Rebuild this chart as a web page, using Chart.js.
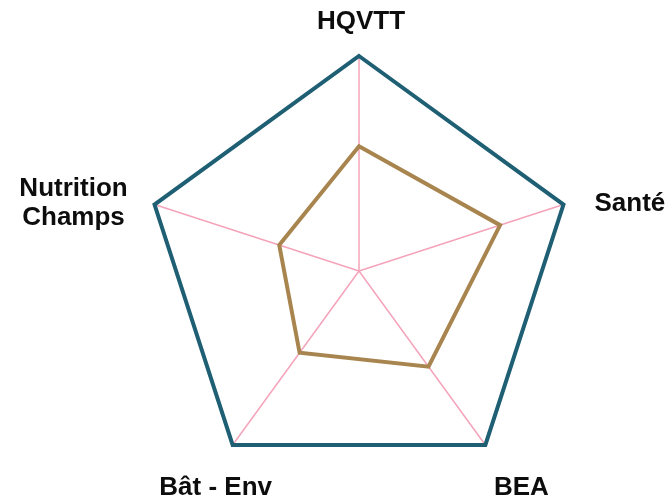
<!DOCTYPE html>
<html>
<head>
<meta charset="utf-8">
<script src="https://cdn.jsdelivr.net/npm/chart.js@4/dist/chart.umd.min.js"></script>
<style>
  html, body { margin: 0; padding: 0; background: #fff; }
  #wrap { width: 672px; height: 497px; position: relative; }
</style>
</head>
<body>
<div id="wrap"><canvas id="radarChart"></canvas></div>
<script>
const categories = ["HQVTT", "Santé", "BEA", "Bât - Env", ["Nutrition", "Champs"]];
const maxValues = [1, 1, 1, 1, 1];
const scoreValues = [0.58, 0.69, 0.55, 0.47, 0.39];

// where each axis label sits, relative to the tip of its axis (x, y of baseline, alignment)
const labelPlacement = [
  { dx: 2, dy: -27, align: "center" },
  { dx: 31, dy: 6, align: "left" },
  { dx: 36, dy: 50, align: "center" },
  { dx: -17, dy: 50, align: "center" },
  { dx: -81, dy: -9, align: "center" }
];

// draws the category names outside the polygon, like the original
const axisLabels = {
  id: "axisLabels",
  afterDraw(chart) {
    const r = chart.scales.r;
    const c = chart.ctx;
    c.save();
    c.font = "bold 26px 'Liberation Sans', Arial, sans-serif";
    c.fillStyle = "#0d0d0d";
    c.textBaseline = "alphabetic";
    chart.data.labels.forEach((label, i) => {
      const tip = r.getPointPosition(i, r.drawingArea);
      const pl = labelPlacement[i];
      const lines = Array.isArray(label) ? label : [label];
      c.textAlign = pl.align;
      lines.forEach((line, j) => {
        c.fillText(line, tip.x + pl.dx, tip.y + pl.dy + j * 29);
      });
    });
    c.restore();
  }
};

const ctx = document.getElementById("radarChart").getContext("2d");

new Chart(ctx, {
  type: "radar",
  data: {
    labels: categories,
    datasets: [
      {
        data: maxValues,
        borderColor: "#1f5f74",
        backgroundColor: "rgba(0,0,0,0)",
        borderWidth: 4,
        pointRadius: 0,
        borderJoinStyle: "miter"
      },
      {
        data: scoreValues,
        borderColor: "#a8844e",
        backgroundColor: "rgba(0,0,0,0)",
        borderWidth: 4,
        pointRadius: 0,
        borderJoinStyle: "miter"
      }
    ]
  },
  options: {
    responsive: true,
    maintainAspectRatio: false,
    animation: false,
    layout: { padding: { top: 56, bottom: 11, left: 144, right: 98 } },
    scales: {
      r: {
        min: 0,
        max: 1,
        ticks: { display: false, stepSize: 0.2 },
        grid: { display: false },
        angleLines: { display: true, color: "#f4a3ba", lineWidth: 1.5 },
        pointLabels: { display: false }
      }
    },
    plugins: {
      legend: { display: false },
      tooltip: { enabled: false }
    }
  },
  plugins: [axisLabels]
});
</script>
</body>
</html>
